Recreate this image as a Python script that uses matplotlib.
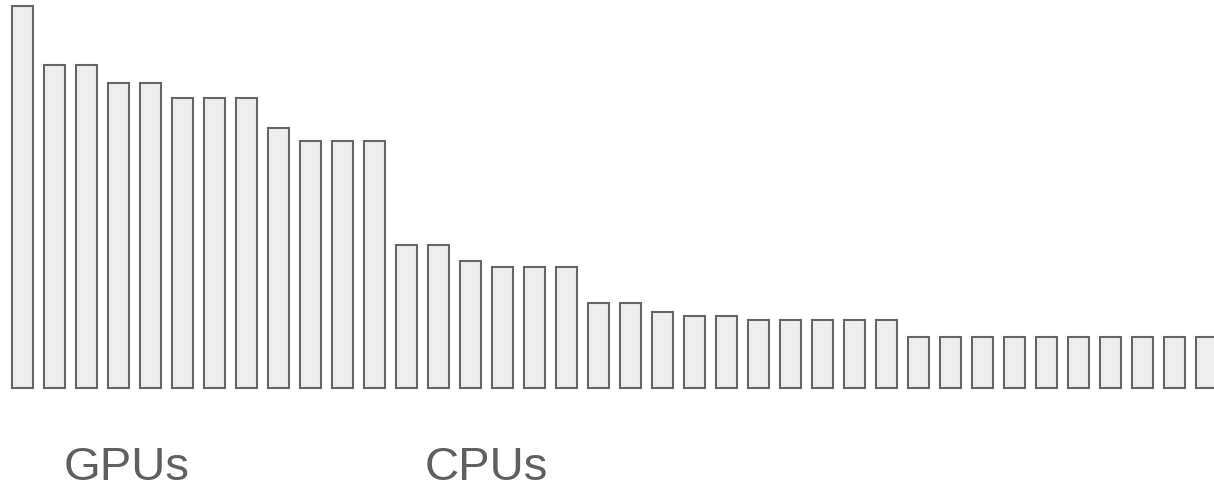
import matplotlib.pyplot as plt
import numpy as np

# bar heights (px-ish units), sorted descending
heights = [382, 323, 323, 305, 305, 290, 290, 290, 260, 247, 247, 247,
           143, 143, 127, 121, 121, 121, 85, 85, 76, 72, 72,
           68, 68, 68, 68, 68,
           51, 51, 51, 51, 51, 51, 51, 51, 51, 51]
group_labels = ['GPUs', 'CPUs']
label_x = [0.052, 0.350]

fig = plt.figure(figsize=(12.14, 4.9), dpi=100)
ax = fig.add_axes([0, 0, 1, 1])

x = np.arange(len(heights))
ax.bar(x, heights, width=0.66, color='#eeeeee', edgecolor='#666666', linewidth=1.5)

ax.set_xlim(-0.703, 37.23)
ax.set_ylim(-102, 388)
ax.axis('off')

for lab, lx in zip(group_labels, label_x):
    fig.text(lx, 0.001, lab, fontsize=34, color='#5f5f5f',
             family='Liberation Sans', va='bottom', ha='left')

fig.savefig('out.png', dpi=100)
